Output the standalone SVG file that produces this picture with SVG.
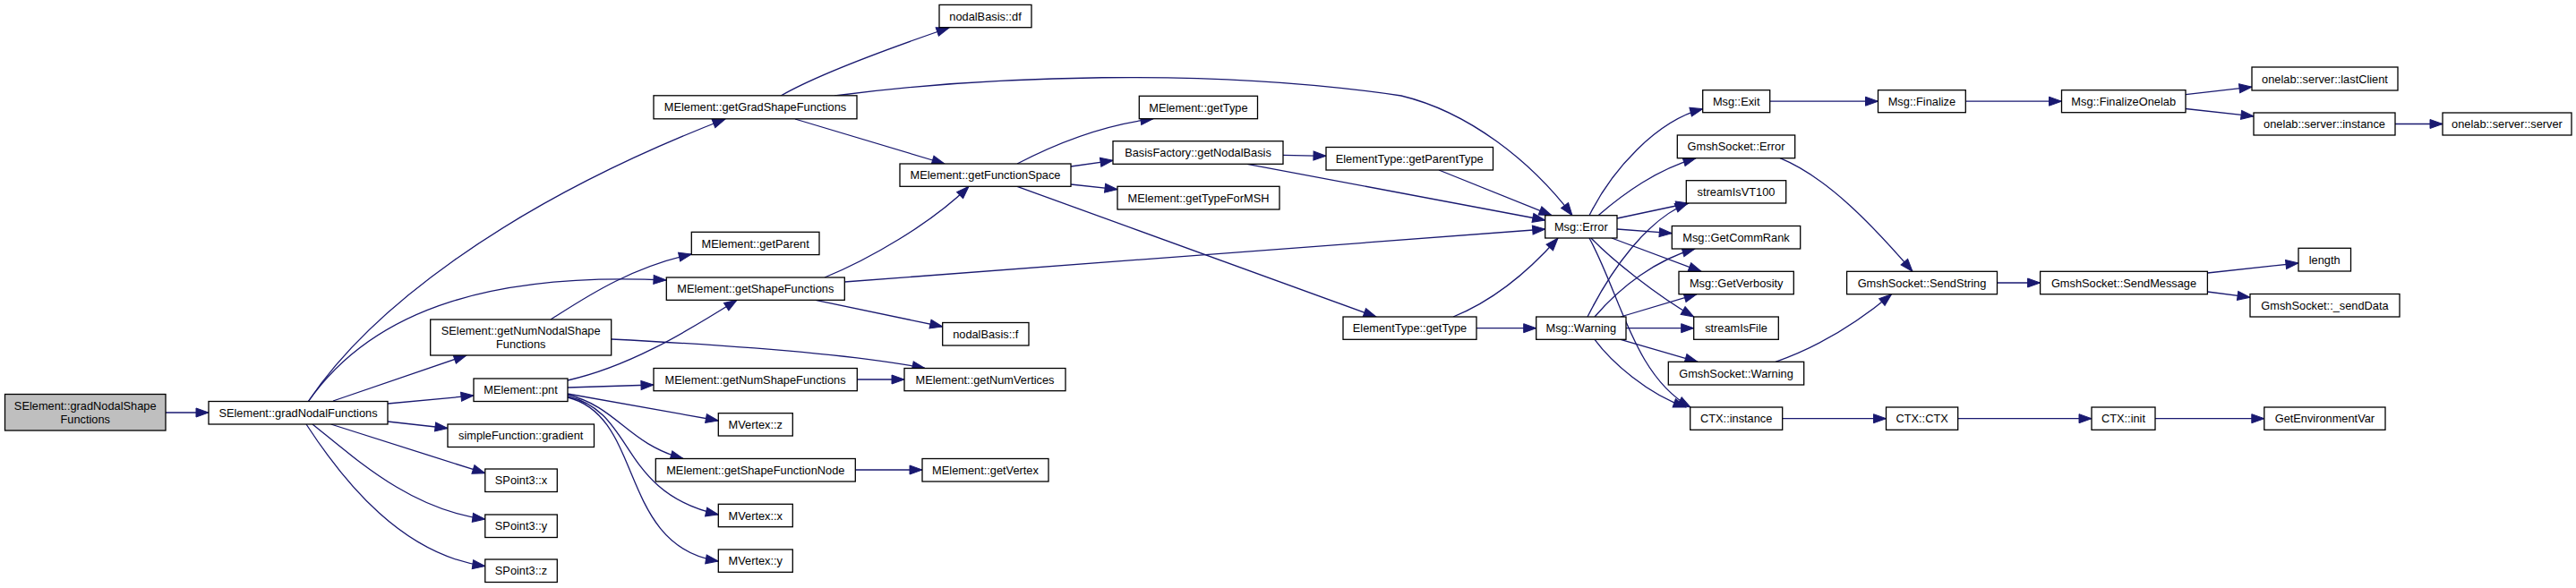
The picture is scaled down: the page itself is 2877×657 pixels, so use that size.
<svg xmlns="http://www.w3.org/2000/svg" width="2877" height="657" viewBox="0 0 2877 657">
<style>
.n rect{fill:#ffffff;stroke:#000000;stroke-width:1.3}
.n.root rect{fill:#bfbfbf}
.n text{font-family:"Liberation Sans",Arial,Helvetica,sans-serif;font-size:12.8px;text-anchor:middle;fill:#000000}
.e path{fill:none;stroke:#191970;stroke-width:1.3;marker-end:url(#arr)}
</style>
<defs>
<marker id="arr" markerUnits="userSpaceOnUse" markerWidth="15" markerHeight="11" viewBox="-0.5 -0.5 15 11" refX="14" refY="5" orient="auto" overflow="visible">
<path d="M0,0L14,5L0,10z" fill="#191970" stroke="#191970" stroke-width="1"/>
</marker>
</defs>
<rect x="0" y="0" width="2877" height="657" fill="#ffffff"/>
<g id="edges" class="e">
<path d="M185,461L233,461"/>
<path d="M344,449C410,350 560,230 810,133"/>
<path d="M344,449C420,340 560,305 744,313"/>
<path d="M372,448L521,397"/>
<path d="M433,451L529,442"/>
<path d="M433,471L500,478.5"/>
<path d="M369.6,474L541.8,528.7"/>
<path d="M349,474C400,515 460,570 541.8,580"/>
<path d="M342,474C385,540 450,620 541.8,632.6"/>
<path d="M615,357C650,335 700,300 772.3,284"/>
<path d="M683,379C800,385 950,395 1033,411.5"/>
<path d="M634,425C700,410 760,375 823,335.3"/>
<path d="M634,433L730,430"/>
<path d="M634,440L802.3,470"/>
<path d="M634,441C690,455 700,495 763,512.5"/>
<path d="M634,443C710,460 690,550 802.3,575"/>
<path d="M634,444C720,465 690,610 802.3,627"/>
<path d="M957.3,424L1010,424"/>
<path d="M955.3,525L1030,525"/>
<path d="M872,107C910,85 990,55 1060,31"/>
<path d="M932,107C1100,85 1350,75 1565,107C1640,125 1710,180 1756,240.7"/>
<path d="M888,133L1055,183"/>
<path d="M921,310C970,290 1040,250 1082,208.3"/>
<path d="M943,315L1725.7,256"/>
<path d="M911,335.3L1052.7,365"/>
<path d="M1136,183C1180,160 1230,140 1288,132.7"/>
<path d="M1196,186L1243,179.3"/>
<path d="M1196,206L1248,211.7"/>
<path d="M1136,208.3L1537,354"/>
<path d="M1433,173.3L1481,174.3"/>
<path d="M1393,183.3L1725.7,246"/>
<path d="M1607,190L1733,240.7"/>
<path d="M1623,354C1670,335 1710,300 1740,266"/>
<path d="M1649,366.7L1715.7,366.7"/>
<path d="M1775,240.7C1800,190 1850,135 1901.7,121.7"/>
<path d="M1785,240.7C1815,215 1850,190 1894,176.7"/>
<path d="M1806,244L1886,227"/>
<path d="M1806,256L1867.3,260.7"/>
<path d="M1800,266L1900,303.3"/>
<path d="M1777,266C1800,290 1850,330 1891.7,354"/>
<path d="M1775,266C1810,330 1825,420 1888,455"/>
<path d="M1773,354C1800,300 1840,245 1885,227"/>
<path d="M1781,354C1810,320 1850,290 1893,278"/>
<path d="M1810,354L1895,328.7"/>
<path d="M1816,366.7L1891.7,366.7"/>
<path d="M1810,379.3L1896,404.3"/>
<path d="M1781,379.3C1800,405 1840,440 1883,455"/>
<path d="M1976.7,113.2L2097.5,113.2"/>
<path d="M2195.3,113.2L2302.5,113.2"/>
<path d="M2441,105.6L2515,97.2"/>
<path d="M2441,121.5L2517,129.9"/>
<path d="M2675,138.5L2728,138.5"/>
<path d="M1988,176.7C2040,198 2090,250 2136,303.3"/>
<path d="M1983,404.3C2030,388 2075,360 2112.6,328.7"/>
<path d="M2230.5,316L2278.6,316"/>
<path d="M2465.4,305L2567,294"/>
<path d="M2465.4,326L2513,332.2"/>
<path d="M1990.7,467.7L2106.5,467.7"/>
<path d="M2186.7,467.7L2336,467.7"/>
<path d="M2407,467.7L2528.8,467.7"/>
</g>
<g id="n_root" class="n root"><rect x="5.5" y="440.5" width="179.5" height="40.5"/><text x="95.2" y="458">SElement::gradNodalShape</text><text x="95.2" y="472.5">Functions</text></g>
<g id="n_gradNodalFunctions" class="n"><rect x="233" y="448.5" width="200" height="25.5"/><text x="333" y="465.9">SElement::gradNodalFunctions</text></g>
<g id="n_getNumNodalShapeFunctions" class="n"><rect x="480.7" y="357" width="202" height="40"/><text x="581.7" y="374.3">SElement::getNumNodalShape</text><text x="581.7" y="388.8">Functions</text></g>
<g id="n_pnt" class="n"><rect x="529" y="423" width="105" height="25.5"/><text x="581.5" y="440.4">MElement::pnt</text></g>
<g id="n_gradient" class="n"><rect x="500" y="474" width="163.5" height="25.5"/><text x="581.7" y="491.4">simpleFunction::gradient</text></g>
<g id="n_spx" class="n"><rect x="541.8" y="524" width="80.5" height="25.5"/><text x="582" y="541.4">SPoint3::x</text></g>
<g id="n_spy" class="n"><rect x="541.8" y="575" width="80.5" height="25.5"/><text x="582" y="592.4">SPoint3::y</text></g>
<g id="n_spz" class="n"><rect x="541.8" y="625" width="80.5" height="25.5"/><text x="582" y="642.4">SPoint3::z</text></g>
<g id="n_getGradShapeFunctions" class="n"><rect x="730" y="106.8" width="227" height="26"/><text x="843.5" y="124.4">MElement::getGradShapeFunctions</text></g>
<g id="n_df" class="n"><rect x="1049" y="5.4" width="103" height="25.3"/><text x="1100.5" y="22.6">nodalBasis::df</text></g>
<g id="n_getParent" class="n"><rect x="772.3" y="259.3" width="142.7" height="25.3"/><text x="843.6" y="276.5">MElement::getParent</text></g>
<g id="n_getShapeFunctions" class="n"><rect x="744.3" y="310" width="199" height="25.3"/><text x="843.8" y="327.2">MElement::getShapeFunctions</text></g>
<g id="n_f" class="n"><rect x="1052.7" y="360.5" width="96.3" height="25.5"/><text x="1100.8" y="377.9">nodalBasis::f</text></g>
<g id="n_getNumShapeFunctions" class="n"><rect x="730" y="411.5" width="227.3" height="25.2"/><text x="843.6" y="428.7">MElement::getNumShapeFunctions</text></g>
<g id="n_getNumVertices" class="n"><rect x="1010" y="411.5" width="180" height="25.2"/><text x="1100" y="428.7">MElement::getNumVertices</text></g>
<g id="n_mvz" class="n"><rect x="802.3" y="461.7" width="83" height="25.3"/><text x="843.8" y="478.9">MVertex::z</text></g>
<g id="n_getShapeFunctionNode" class="n"><rect x="732.3" y="512.5" width="223" height="25.5"/><text x="843.8" y="529.9">MElement::getShapeFunctionNode</text></g>
<g id="n_getVertex" class="n"><rect x="1030" y="512.5" width="141" height="25.5"/><text x="1100.5" y="529.9">MElement::getVertex</text></g>
<g id="n_mvx" class="n"><rect x="802.3" y="563.3" width="83" height="25.4"/><text x="843.8" y="580.6">MVertex::x</text></g>
<g id="n_mvy" class="n"><rect x="802.3" y="614" width="83" height="25.3"/><text x="843.8" y="631.2">MVertex::y</text></g>
<g id="n_getFunctionSpace" class="n"><rect x="1005" y="183" width="191" height="25.3"/><text x="1100.5" y="200.2">MElement::getFunctionSpace</text></g>
<g id="n_getType" class="n"><rect x="1272.3" y="107.3" width="132.2" height="25.4"/><text x="1338.4" y="124.6">MElement::getType</text></g>
<g id="n_getNodalBasis" class="n"><rect x="1243" y="157.7" width="190" height="25.6"/><text x="1338" y="175.1">BasisFactory::getNodalBasis</text></g>
<g id="n_getTypeForMSH" class="n"><rect x="1248" y="208.3" width="181" height="25.7"/><text x="1338.5" y="225.8">MElement::getTypeForMSH</text></g>
<g id="n_getParentType" class="n"><rect x="1481" y="164.5" width="186.5" height="25.5"/><text x="1574.2" y="181.9">ElementType::getParentType</text></g>
<g id="n_etGetType" class="n"><rect x="1500" y="354" width="149" height="25.3"/><text x="1574.5" y="371.2">ElementType::getType</text></g>
<g id="n_msgError" class="n"><rect x="1725.7" y="240.7" width="80.3" height="25.3"/><text x="1765.8" y="257.9">Msg::Error</text></g>
<g id="n_msgWarning" class="n"><rect x="1715.7" y="354" width="100.3" height="25.3"/><text x="1765.8" y="371.2">Msg::Warning</text></g>
<g id="n_msgExit" class="n"><rect x="1901.7" y="100.7" width="75" height="25"/><text x="1939.2" y="117.8">Msg::Exit</text></g>
<g id="n_gsError" class="n"><rect x="1873.3" y="151" width="131.4" height="25.7"/><text x="1939" y="168.4">GmshSocket::Error</text></g>
<g id="n_vt100" class="n"><rect x="1883.3" y="201.7" width="111.4" height="25.3"/><text x="1939" y="218.9">streamIsVT100</text></g>
<g id="n_commRank" class="n"><rect x="1867.3" y="252.5" width="143.4" height="25.5"/><text x="1939" y="269.9">Msg::GetCommRank</text></g>
<g id="n_verbosity" class="n"><rect x="1875" y="303.3" width="128.3" height="25.4"/><text x="1939.2" y="320.6">Msg::GetVerbosity</text></g>
<g id="n_isFile" class="n"><rect x="1891.7" y="354" width="94.6" height="25.3"/><text x="1939" y="371.2">streamIsFile</text></g>
<g id="n_gsWarning" class="n"><rect x="1863.3" y="404.3" width="151.4" height="25.7"/><text x="1939" y="421.7">GmshSocket::Warning</text></g>
<g id="n_ctxInstance" class="n"><rect x="1887.7" y="455" width="103" height="25.3"/><text x="1939.2" y="472.2">CTX::instance</text></g>
<g id="n_finalize" class="n"><rect x="2097.5" y="100.7" width="97.8" height="25"/><text x="2146.4" y="117.8">Msg::Finalize</text></g>
<g id="n_finalizeOnelab" class="n"><rect x="2302.5" y="100.7" width="138.5" height="25"/><text x="2371.7" y="117.8">Msg::FinalizeOnelab</text></g>
<g id="n_lastClient" class="n"><rect x="2515" y="75" width="163" height="26"/><text x="2596.5" y="92.6">onelab::server::lastClient</text></g>
<g id="n_olInstance" class="n"><rect x="2517" y="126" width="158" height="25"/><text x="2596" y="143.1">onelab::server::instance</text></g>
<g id="n_olServer" class="n"><rect x="2728" y="126" width="144" height="25"/><text x="2800" y="143.1">onelab::server::server</text></g>
<g id="n_sendString" class="n"><rect x="2062.6" y="303.3" width="167.9" height="25.4"/><text x="2146.5" y="320.6">GmshSocket::SendString</text></g>
<g id="n_sendMessage" class="n"><rect x="2278.6" y="303.3" width="186.8" height="25.4"/><text x="2372" y="320.6">GmshSocket::SendMessage</text></g>
<g id="n_length" class="n"><rect x="2567" y="277.3" width="58.5" height="25.7"/><text x="2596.2" y="294.7">length</text></g>
<g id="n_sendData" class="n"><rect x="2513" y="328.5" width="167" height="25.5"/><text x="2596.5" y="345.9">GmshSocket::_sendData</text></g>
<g id="n_ctxCtx" class="n"><rect x="2106.5" y="455" width="80.2" height="25.3"/><text x="2146.6" y="472.2">CTX::CTX</text></g>
<g id="n_ctxInit" class="n"><rect x="2336" y="455" width="71" height="25.3"/><text x="2371.5" y="472.2">CTX::init</text></g>
<g id="n_getEnv" class="n"><rect x="2528.8" y="455" width="135.2" height="25.3"/><text x="2596.4" y="472.2">GetEnvironmentVar</text></g>
</svg>
